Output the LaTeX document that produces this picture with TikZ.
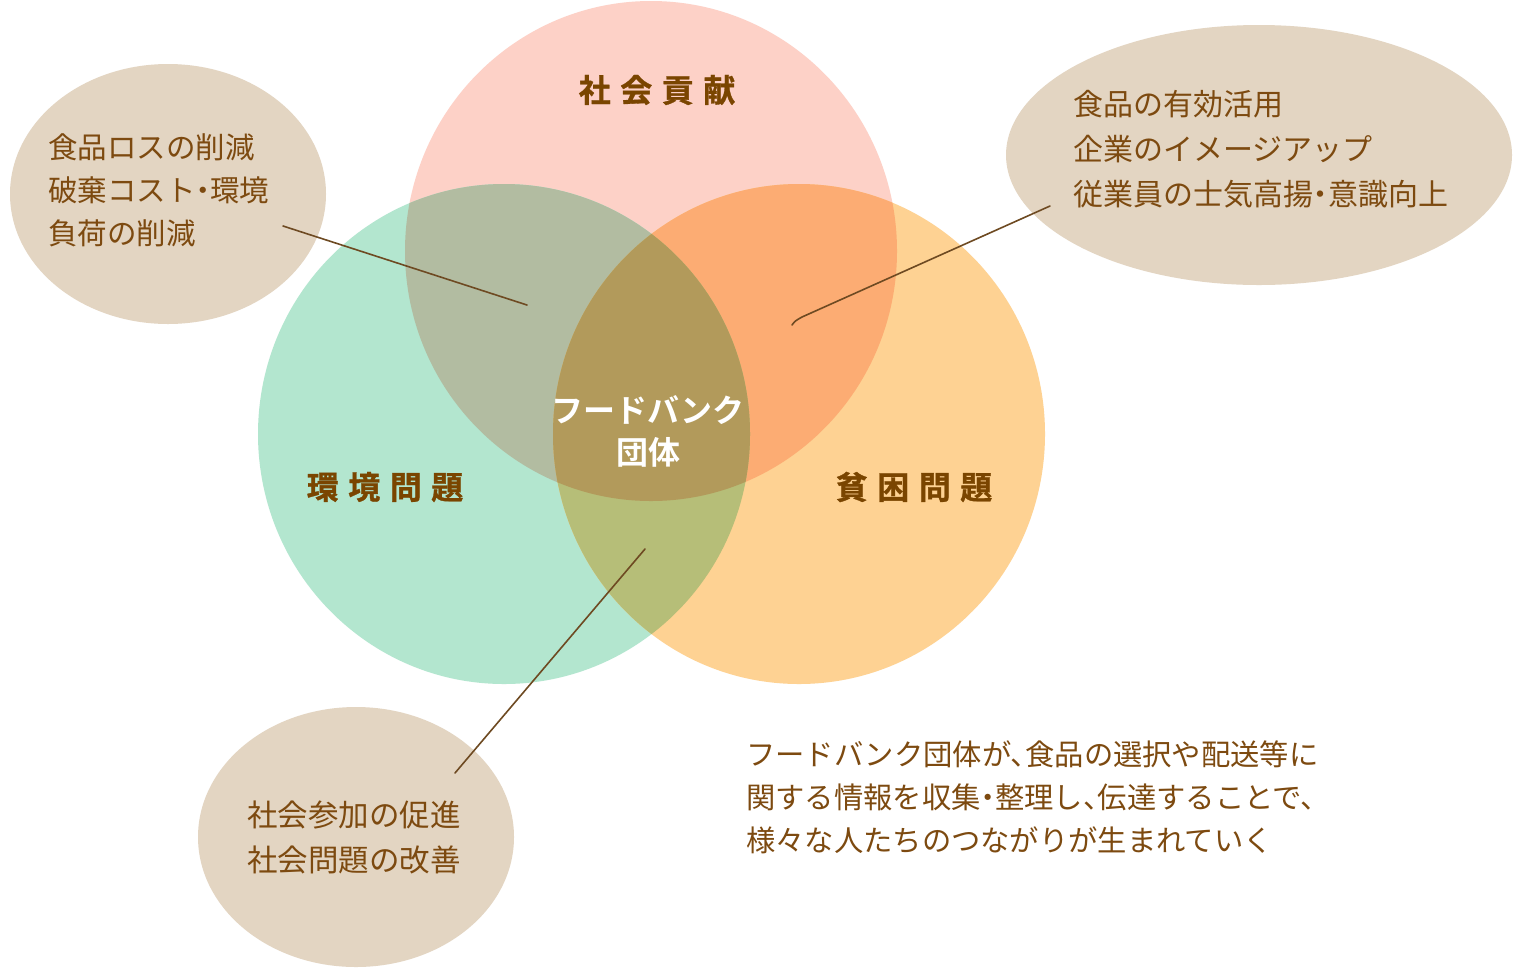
\documentclass[tikz,border=0pt]{standalone}
\usepackage{fontspec}
\setmainfont{Noto Sans CJK JP}
\newfontfamily\jpbold{Noto Sans CJK JP Bold}
\newfontfamily\jpheavy[FakeBold=1]{Noto Sans CJK JP Bold}
\newcommand\jnaka{\kern-0.25em・\kern-0.25em}
\newcommand\jten{、\kern-0.5em}
\definecolor{cpink}{RGB}{253,209,199}
\definecolor{cgreen}{RGB}{179,230,207}
\definecolor{corange}{RGB}{254,210,147}
\definecolor{cpg}{RGB}{178,188,161}
\definecolor{cpo}{RGB}{252,172,115}
\definecolor{cgo}{RGB}{182,190,120}
\definecolor{cpgo}{RGB}{178,154,91}
\definecolor{cbeige}{RGB}{227,213,194}
\definecolor{cline}{RGB}{110,74,34}
\definecolor{ctxt}{RGB}{125,74,16}
\definecolor{clab}{RGB}{122,69,0}
\tikzset{
  bubtext/.style={text=ctxt, font=\fontsize{29.5}{43}\selectfont, align=left, inner sep=0pt, anchor=west},
  lab/.style={text=clab, font=\jpheavy\fontsize{32}{38}\selectfont, inner sep=0pt},
  ctr/.style={text=white, font=\jpbold\fontsize{32}{42}\selectfont, align=center, inner sep=0pt},
  conn/.style={draw=cline, line width=1.6pt, line cap=round}
}
\begin{document}
\begin{tikzpicture}[x=1pt,y=-1pt]
\useasboundingbox (0,0) rectangle (1530,970);
\fill[white] (0,0) rectangle (1530,970);
% bubbles
\fill[cbeige] (168,194) ellipse[x radius=158, y radius=130];
\fill[cbeige] (1259,155) ellipse[x radius=253, y radius=130];
\fill[cbeige] (356,837) ellipse[x radius=158, y radius=130];
% circles
\def\pinkc{(651,251) ellipse[x radius=246, y radius=250]}
\def\greenc{(504,434) ellipse[x radius=246, y radius=250]}
\def\orangec{(799,434) ellipse[x radius=246, y radius=250]}
\fill[cpink] \pinkc;
\fill[cgreen] \greenc;
\fill[corange] \orangec;
\begin{scope}\clip \pinkc; \fill[cpg] \greenc; \end{scope}
\begin{scope}\clip \pinkc; \fill[cpo] \orangec; \end{scope}
\begin{scope}\clip \greenc; \fill[cgo] \orangec; \end{scope}
\begin{scope}\clip \pinkc; \clip \greenc; \fill[cpgo] \orangec; \end{scope}
% connectors
\coordinate (l1a) at (283,226);
\coordinate (l1b) at (527,305);
\coordinate (l2a) at (1050,206);
\coordinate (l2m) at (802,317);
\coordinate (l2c) at (795,321);
\coordinate (l2b) at (792,325);
\coordinate (l3a) at (455,773);
\coordinate (l3b) at (645,549);
\draw[conn] (l1a) -- (l1b);
\draw[conn] (l2a) -- (l2m) .. controls (l2c) .. (l2b);
\draw[conn] (l3a) -- (l3b);
% labels
\node[lab] (shakai) at (657,90) {社\kern9.5pt 会\kern9.5pt 貢\kern9.5pt 献};
\node[lab] (kankyo) at (385,487) {環\kern9.5pt 境\kern9.5pt 問\kern9.5pt 題};
\node[lab] (hinkon) at (914,487) {貧\kern9.5pt 困\kern9.5pt 問\kern9.5pt 題};
\node[ctr] (fb) at (648,431) {フードバンク\\団体};
% bubble texts
\node[bubtext] (t1) at (48,190) {食品ロスの削減\\破棄コスト\jnaka 環境\\負荷の削減};
\node[bubtext, font=\fontsize{30}{45}\selectfont] (t2) at (1073,149) {食品の有効活用\\企業のイメージアップ\\従業員の士気高揚\jnaka 意識向上};
\node[bubtext, font=\fontsize{30.5}{45}\selectfont] (t3) at (247,837) {社会参加の促進\\社会問題の改善};
\node[bubtext, font=\fontsize{29.3}{43}\selectfont] (t4) at (746,797) {フードバンク団体が\jten 食品の選択や配送等に\\関する情報を収集\jnaka 整理し\jten 伝達することで\jten\\様々な人たちのつながりが生まれていく};
\end{tikzpicture}
\end{document}
